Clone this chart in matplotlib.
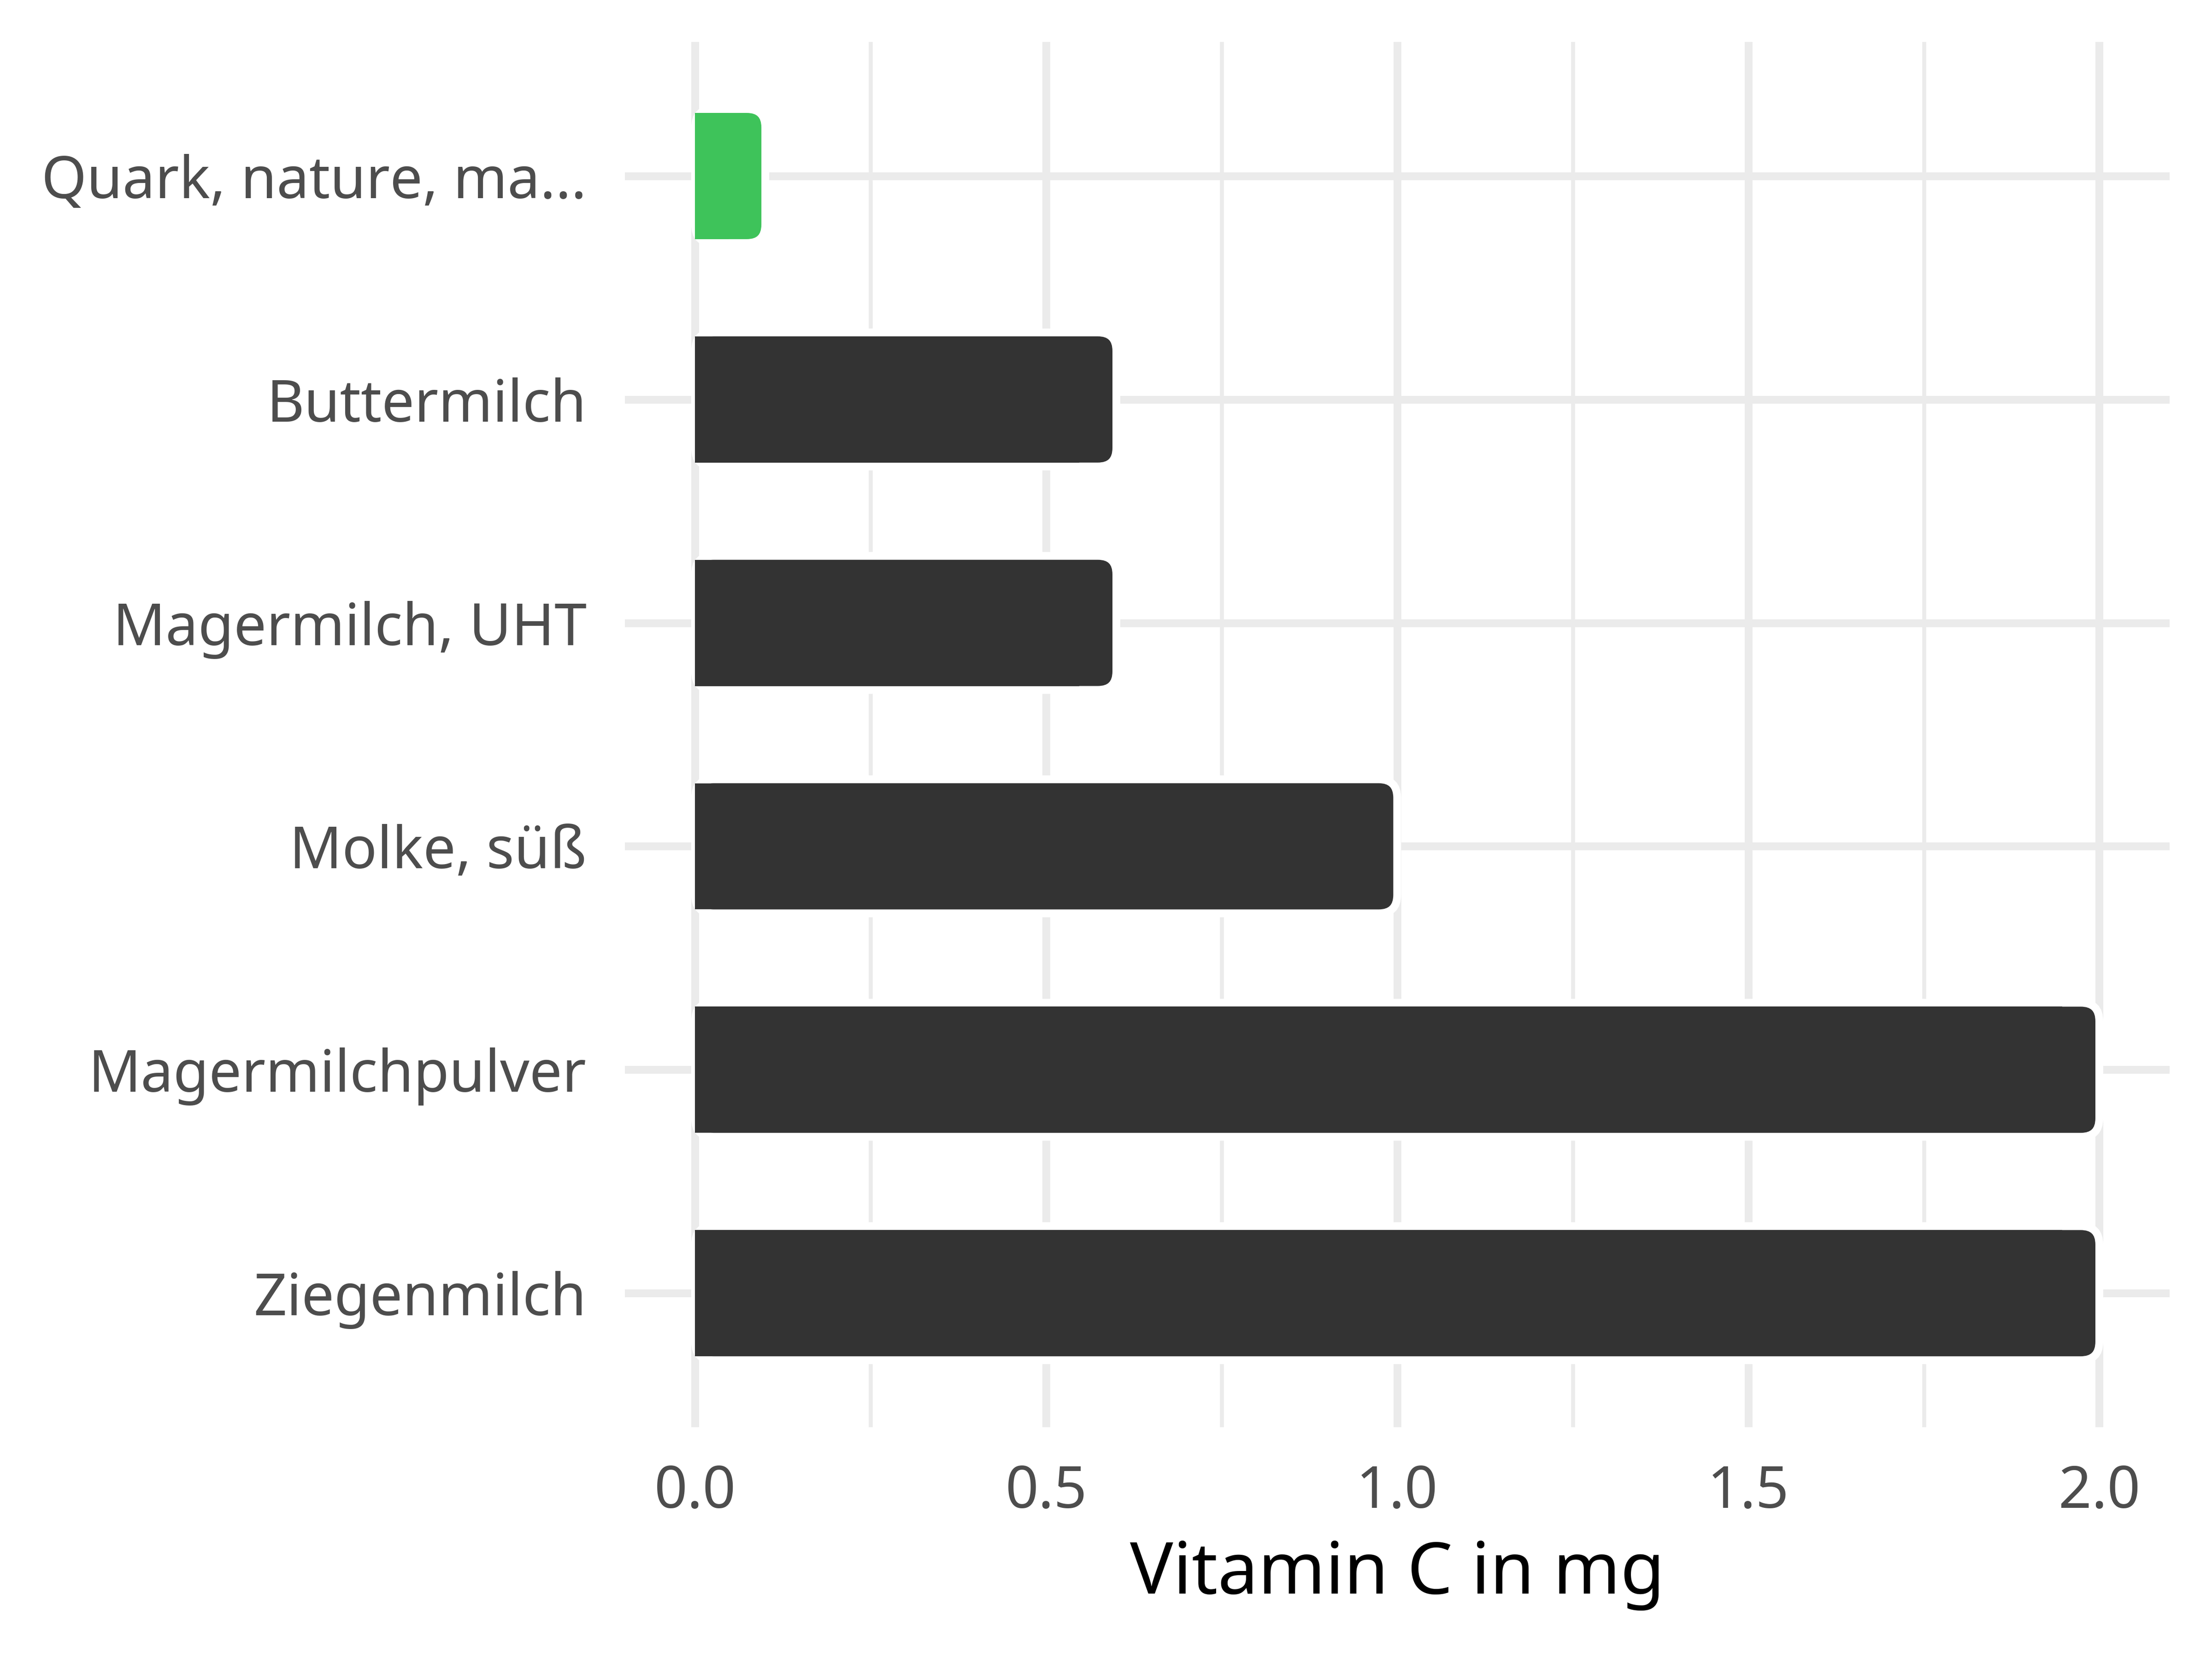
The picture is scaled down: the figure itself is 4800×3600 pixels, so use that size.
import matplotlib as mpl
from matplotlib import pyplot as plt
from matplotlib.patches import FancyBboxPatch, Rectangle
import numpy as np

# data, top to bottom
foods = ["Quark, nature, ma...", "Buttermilch", "Magermilch, UHT",
         "Molke, süß", "Magermilchpulver", "Ziegenmilch"]
vitamin_c = [0.1, 0.6, 0.6, 1.0, 2.0, 2.0]
highlight = [True, False, False, False, False, False]
x_ticks = [0.0, 0.5, 1.0, 1.5, 2.0]
x_tick_labels = ["0.0", "0.5", "1.0", "1.5", "2.0"]
x_label = "Vitamin C in mg"

# style
DPI = 300
FIG_W, FIG_H = 16, 12
GRID = "#EBEBEB"
BAR = "#333333"
GREEN = "#3EC35A"
LW_PX = 17
lw = LW_PX * 72 / DPI
mpl.rcParams["font.family"] = ["Noto Sans", "DejaVu Sans"]

fig = plt.figure(figsize=(FIG_W, FIG_H), dpi=DPI)
left, right, bottom, top = 0.2825, 0.9808, 0.1397, 0.9747
ax = fig.add_axes([left, bottom, right - left, top - bottom])

xlim = (-0.1, 2.1)
ylim = (0.4, len(foods) + 0.6)
ax.set_xlim(*xlim)
ax.set_ylim(*ylim)

# pixels per data unit, used for rounded corners and stroke widths
px_x = (right - left) * FIG_W * DPI / (xlim[1] - xlim[0])
px_y = (top - bottom) * FIG_H * DPI / (ylim[1] - ylim[0])
aspect = px_x / px_y
radius = 40 / px_x

# grid
for x in x_ticks:
    ax.axvline(x, color=GRID, lw=lw, zorder=0)
for x in np.arange(0.25, 2.1, 0.5):
    ax.axvline(x, color=GRID, lw=lw / 2, zorder=0)
ys = np.arange(len(foods), 0, -1)
for y in ys:
    ax.axhline(y, color=GRID, lw=lw, zorder=0)

# bars: rounded right end with white outline, square left end
bar_h = 0.6
for y, v, hl in zip(ys, vitamin_c, highlight):
    c = GREEN if hl else BAR
    p = FancyBboxPatch((0, y - bar_h / 2), v, bar_h,
                       boxstyle="round,pad=0,rounding_size=%f" % radius,
                       mutation_aspect=aspect, facecolor=c,
                       edgecolor="white", lw=lw, zorder=2)
    ax.add_patch(p)
    inner = bar_h - LW_PX / px_y
    ax.add_patch(Rectangle((0, y - inner / 2), v - 2 * radius, inner,
                           facecolor=c, edgecolor="none", zorder=3))

ax.set_yticks(ys)
ax.set_yticklabels(foods)
ax.set_xticks(x_ticks)
ax.set_xticklabels(x_tick_labels)
ax.tick_params(axis="both", length=0, labelsize=30.2, labelcolor="#4D4D4D")
ax.tick_params(axis="y", pad=20)
ax.tick_params(axis="x", pad=19)
ax.set_xlabel(x_label, fontsize=37.5, color="black", labelpad=9)

for s in ax.spines.values():
    s.set_visible(False)

fig.savefig("out.png", dpi=DPI, facecolor="white")
